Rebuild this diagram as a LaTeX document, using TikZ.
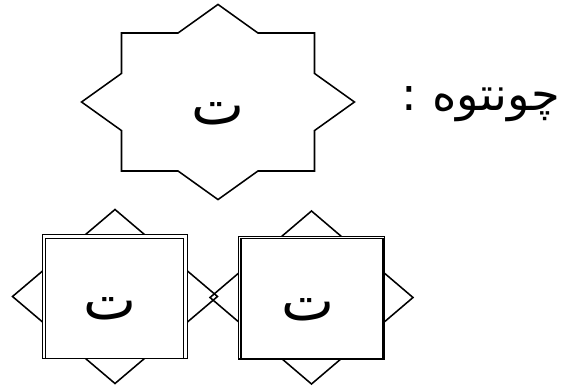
\documentclass[tikz,border=0pt]{standalone}
\usepackage{fontspec}
\newfontfamily\arabicfont[Script=Arabic]{DejaVu Sans}
\TeXXeTstate=1
\usetikzlibrary{positioning}

\begin{document}
\begin{tikzpicture}[x=0.025cm,y=-0.025cm,
  outline/.style={line width=1.1pt,line join=miter},
  letter/.style={font=\arabicfont\fontsize{40}{48}\selectfont,inner sep=0pt},
  caption/.style={font=\arabicfont\fontsize{33}{40}\selectfont,inner sep=0pt}]
  \useasboundingbox (0,0) rectangle (561,390);
  % top star: square and diamond as one outline
  \begin{scope}[shift={(218,102)},xscale=96.5,yscale=69]
    \draw[outline] (0,-1.414) -- (0.414,-1) -- (1,-1) -- (1,-0.414) -- (1.414,0)
      -- (1,0.414) -- (1,1) -- (0.414,1) -- (0,1.414) -- (-0.414,1) -- (-1,1)
      -- (-1,0.414) -- (-1.414,0) -- (-1,-0.414) -- (-1,-1) -- (-0.414,-1) -- cycle;
  \end{scope}
  \node[letter] (tehtop) at (218,114) {\beginR ت\endR};
  % caption
  \node[caption] (contoh) at (481,104) {\beginR چونتوه :\endR};
  % lower left: diamond behind a doubled box
  \draw[outline] (115,209.5) -- (217.5,296.5) -- (115,383.5) -- (12.5,296.5) -- cycle;
  \filldraw[outline,fill=white] (42.3,234.3) rectangle (187.7,358.5);
  \draw[outline] (45.7,238.3) rectangle (183.3,358.3);
  \node[letter] (tehleft) at (110,309) {\beginR ت\endR};
  % lower right
  \draw[outline] (311.5,211) -- (413,297.5) -- (311.5,384) -- (210,297.5) -- cycle;
  \filldraw[outline,fill=white] (238.3,236.7) rectangle (384.5,359);
  \draw[outline] (241,238.3) rectangle (383,359);
  \node[letter] (tehright) at (308,309.5) {\beginR ت\endR};
\end{tikzpicture}
\end{document}
